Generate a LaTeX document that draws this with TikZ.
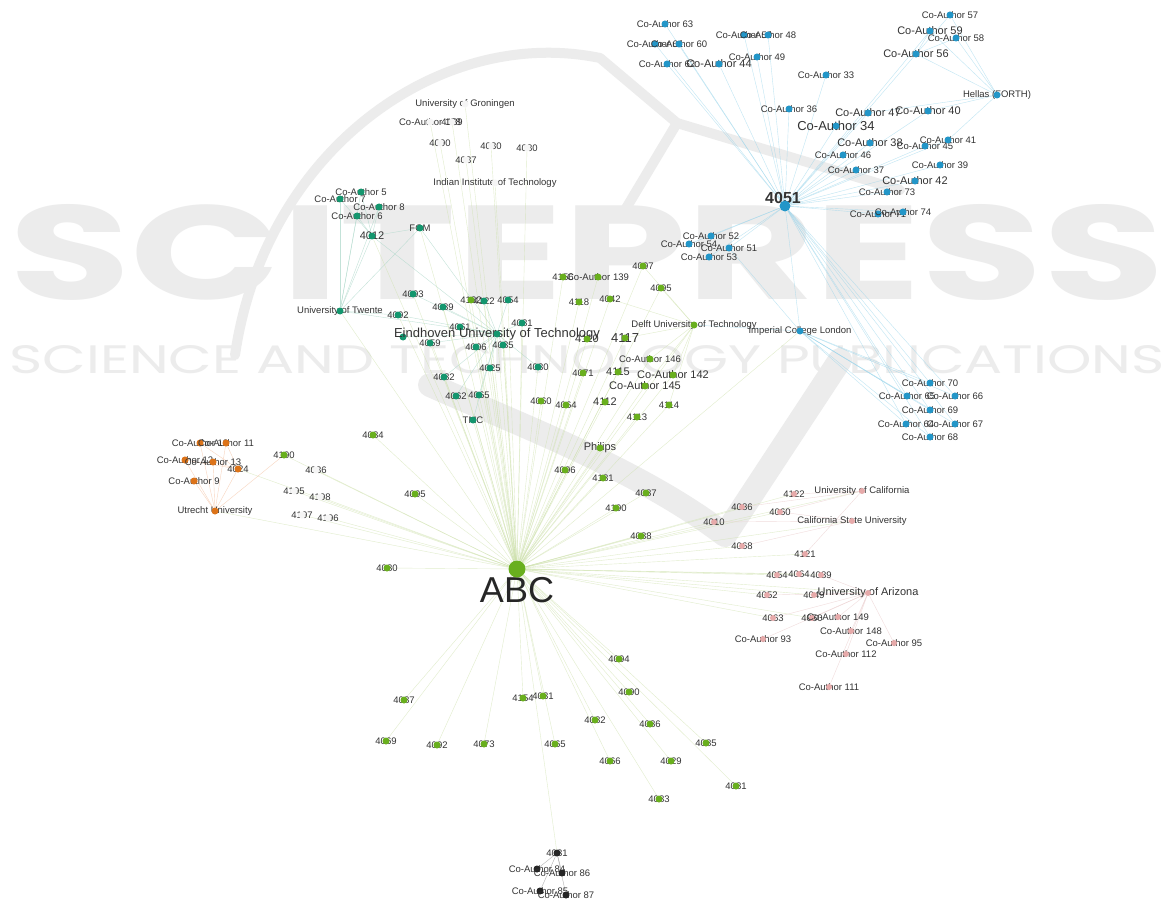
\documentclass[tikz,border=0pt]{standalone}
\usepackage{fontspec}
\setmainfont{Liberation Sans}
\newfontfamily\wmfont{Poppins}
\usepackage{graphicx}
\usetikzlibrary{backgrounds}
\definecolor{nodeblue}{RGB}{35,150,200}
\definecolor{nodeteal}{RGB}{20,150,110}
\definecolor{nodegreen}{RGB}{105,175,30}
\definecolor{nodeorange}{RGB}{220,115,25}
\definecolor{nodepink}{RGB}{230,170,170}
\definecolor{edgegreen}{RGB}{205,225,170}
\definecolor{edgeblue}{RGB}{150,212,235}
\definecolor{edgeteal}{RGB}{170,215,200}
\definecolor{edgeorange}{RGB}{245,195,165}
\definecolor{edgepink}{RGB}{235,205,205}
\definecolor{wmgray}{RGB}{236,236,236}

\begin{document}
\begin{tikzpicture}[x=1pt, y=-1pt,
  lab/.style={font=\fontsize{9.5}{10}\selectfont, text=black!80, inner sep=0pt},
  labm/.style={lab, font=\fontsize{11}{12}\selectfont},
  labl/.style={lab, font=\fontsize{13}{14}\selectfont},
  dot/.style={circle, inner sep=0pt, minimum size=7pt},
  bdot/.style={dot, fill=nodeblue},
  tdot/.style={dot, fill=nodeteal},
  gdot/.style={dot, fill=nodegreen},
  odot/.style={dot, fill=nodeorange},
  pdot/.style={dot, fill=nodepink},
  wdot/.style={dot, fill=black!4},
  ddot/.style={dot, fill=black!85},
  link/.style={line width=0.4pt},
  gedge/.style={link, draw=edgegreen, opacity=0.6},
  bedge/.style={link, draw=edgeblue, opacity=0.6},
  tedge/.style={link, draw=edgeteal, opacity=0.7},
  oedge/.style={link, draw=edgeorange, opacity=0.7},
  pedge/.style={link, draw=edgepink, opacity=0.7},
  wmline/.style={draw=wmgray, line cap=round, line join=round}
]
\useasboundingbox (0,0) rectangle (1169,901);

% blue cluster round 4051
\foreach \n/\x/\y/\f/\txt in {
  b63/665/24/lab/{Co-Author 63}, b61/655/44/lab/{Co-Author 61},
  b60/679/44/lab/{Co-Author 60}, b50/744/35/lab/{Co-Author 50},
  b48/768/35/lab/{Co-Author 48}, b49/757/57/lab/{Co-Author 49},
  b62/667/64/lab/{Co-Author 62}, b44/719/64/labm/{Co-Author 44},
  b33/826/75/lab/{Co-Author 33}, b36/789/109/lab/{Co-Author 36},
  b47/868/113/labm/{Co-Author 47}, b40/928/111/labm/{Co-Author 40},
  b34/836/126/labl/{Co-Author 34}, b38/870/143/labm/{Co-Author 38},
  b45/925/146/lab/{Co-Author 45}, b41/948/140/lab/{Co-Author 41},
  b46/843/155/lab/{Co-Author 46}, b37/856/170/lab/{Co-Author 37},
  b39/940/165/lab/{Co-Author 39}, b42/915/181/labm/{Co-Author 42},
  b73/887/192/lab/{Co-Author 73}, b71/878/214/lab/{Co-Author 71},
  b74/903/212/lab/{Co-Author 74}, b57/950/15/lab/{Co-Author 57},
  b59/930/31/labm/{Co-Author 59}, b58/956/38/lab/{Co-Author 58},
  b56/916/54/labm/{Co-Author 56}, hel/997/95/lab/{Hellas (FORTH)},
  b52/711/236/lab/{Co-Author 52}, b54/689/244/lab/{Co-Author 54},
  b51/729/248/lab/{Co-Author 51}, b53/709/257/lab/{Co-Author 53},
  icl/800/331/lab/{Imperial College London},
  b70/930/383/lab/{Co-Author 70}, b65/907/396/lab/{Co-Author 65},
  b66/955/396/lab/{Co-Author 66}, b69/930/410/lab/{Co-Author 69},
  b64/906/424/lab/{Co-Author 64}, b67/955/424/lab/{Co-Author 67},
  b68/930/437/lab/{Co-Author 68}}{
  \node[\f] at (\x,\y) {\txt};
  \node[bdot] (\n) at (\x,\y) {};
}
\node[lab, font=\bfseries\fontsize{16}{17}\selectfont] at (783,198) {4051};
\node[bdot, minimum size=11pt] (hub) at (785,206) {};

% top labels with pale dots
\foreach \n/\x/\y/\f/\txt in {
  grn/465/104/lab/{University of Groningen}, c138/430/122/lab/{Co-Author 138},
  t4139/452/122/lab/{4139}, t4090/440/143/lab/{4090},
  t4030/491/146/lab/{4030}, t4080/527/148/lab/{4080},
  t4037/466/160/lab/{4037}, iit/495/183/lab/{Indian Institute of Technology},
  w4036/316/470/lab/{4036}, w4195/294/491/lab/{4195},
  w4198/320/497/lab/{4198}, w4197/302/515/lab/{4197},
  w4196/328/518/lab/{4196}}{
  \node[\f] at (\x,\y) {\txt};
  \node[wdot] (\n) at (\x,\y) {};
}

% teal cluster
\foreach \n/\x/\y/\f/\txt in {
  c5/361/192/lab/{Co-Author 5}, c7/340/199/lab/{Co-Author 7},
  c8/379/207/lab/{Co-Author 8}, c6/357/216/lab/{Co-Author 6},
  t4012/372/236/labm/{4012}, fom/420/228/lab/{FOM},
  t4093/413/294/lab/{4093}, twe/340/311/lab/{University of Twente},
  t4092/398/315/lab/{4092}, t4089/443/307/lab/{4089},
  t4122/484/301/lab/{4122}, t4054/508/300/lab/{4054},
  t4061/460/327/lab/{4061}, t4081/522/323/lab/{4081},
  t4059/430/343/lab/{4059}, t4006/476/347/lab/{4006},
  t4085/503/345/lab/{4085}, t4025/490/368/lab/{4025},
  t4030b/538/367/lab/{4030}, t4082/444/377/lab/{4082},
  t4062/456/396/lab/{4062}, t4065/479/395/lab/{4065},
  tmc/473/420/lab/{TMC}, x403/403/337/lab/{},
  ein/497/334/labl/{Eindhoven University of Technology}}{
  \node[\f] at (\x,\y) {\txt};
  \node[tdot] (\n) at (\x,\y) {};
}

% green cluster
\foreach \n/\x/\y/\f/\txt in {
  g4132/471/300/lab/{4132}, g4156/563/277/lab/{4156},
  g139/598/277/lab/{Co-Author 139}, g4097/643/266/lab/{4097},
  g4095/661/288/lab/{4095}, g4118/579/302/lab/{4118},
  g4042/610/299/lab/{4042}, dlf/694/325/lab/{Delft University of Technology},
  g4117/625/338/labl/{4117}, g4110/587/339/labm/{4110},
  g146/650/359/lab/{Co-Author 146}, g4071/583/373/lab/{4071},
  g4115/618/372/labm/{4115}, g142/673/375/labm/{Co-Author 142},
  g145/645/386/labm/{Co-Author 145}, g4060/541/401/lab/{4060},
  g4064/566/405/lab/{4064}, g4112/605/402/labm/{4112},
  g4114/669/405/lab/{4114}, g4113/637/417/lab/{4113},
  phl/600/448/labm/{Philips}, g4096/565/470/lab/{4096},
  g4181/603/478/lab/{4181}, g4087/646/493/lab/{4087},
  g4190/616/508/lab/{4190}, g4088/641/536/lab/{4088},
  g4084/373/435/lab/{4084}, g4095b/415/494/lab/{4095},
  g4190b/284/455/lab/{4190}, g4080/387/568/lab/{4080},
  g4094/619/659/lab/{4094}, g4087b/404/700/lab/{4087},
  g4154/523/698/lab/{4154}, g4031/543/696/lab/{4031},
  g4090/629/692/lab/{4090}, g4082/595/720/lab/{4082},
  g4086/650/724/lab/{4086}, g4069/386/741/lab/{4069},
  g4092/437/745/lab/{4092}, g4073/484/744/lab/{4073},
  g4065/555/744/lab/{4065}, g4085/706/743/lab/{4085},
  g4066/610/761/lab/{4066}, g4029/671/761/lab/{4029},
  g4081/736/786/lab/{4081}, g4083/659/799/lab/{4083}}{
  \node[\f] at (\x,\y) {\txt};
  \node[gdot] (\n) at (\x,\y) {};
}

% orange cluster
\foreach \n/\x/\y/\f/\txt in {
  o10/200/443/lab/{Co-Author 10}, o11/226/443/lab/{Co-Author 11},
  o12/185/460/lab/{Co-Author 12}, o13/213/462/lab/{Co-Author 13},
  o4024/238/469/lab/{4024}, o9/194/481/lab/{Co-Author 9},
  utr/215/511/lab/{Utrecht University}}{
  \node[\f] at (\x,\y) {\txt};
  \node[odot] (\n) at (\x,\y) {};
}

% pink cluster
\foreach \n/\x/\y/\f/\txt in {
  p4122/794/494/lab/{4122}, uca/862/491/lab/{University of California},
  p4086/742/507/lab/{4086}, p4060/780/512/lab/{4060},
  csu/852/521/lab/{California State University}, p4010/714/522/lab/{4010},
  p4068/742/546/lab/{4068}, p4121/805/554/lab/{4121},
  p4054/777/575/lab/{4054}, p4064/799/574/lab/{4064},
  p4089/821/575/lab/{4089}, p4052/767/595/lab/{4052},
  p4049/814/595/lab/{4049}, uaz/868/593/labm/{University of Arizona},
  p4063/773/618/lab/{4063}, p4050/812/618/lab/{4050},
  p149/838/617/lab/{Co-Author 149}, p148/851/631/lab/{Co-Author 148},
  p95/894/643/lab/{Co-Author 95}, p93/763/639/lab/{Co-Author 93},
  p112/846/654/lab/{Co-Author 112}, p111/829/687/lab/{Co-Author 111}}{
  \node[\f] at (\x,\y) {\txt};
  \node[pdot, minimum size=6pt] (\n) at (\x,\y) {};
}

% bottom cluster
\foreach \n/\x/\y/\f/\txt in {
  d4031/557/853/lab/{4031}, d84/537/869/lab/{Co-Author 84},
  d86/562/873/lab/{Co-Author 86}, d85/540/891/lab/{Co-Author 85},
  d87/566/895/lab/{Co-Author 87}}{
  \node[\f] at (\x,\y) {\txt};
  \node[ddot] (\n) at (\x,\y) {};
}

% ABC
\node[lab, font=\fontsize{36}{40}\selectfont, text=black!85] at (517,590) {ABC};
\node[gdot, minimum size=17pt] (abc) at (517,569) {};

\begin{scope}[on background layer]
  \fill[white] (0,0) rectangle (1169,901);
  % watermark
  \node[text=wmgray, inner sep=0pt] at (587,252)
    {\resizebox{1155pt}{95pt}{\wmfont\bfseries SCITEPRESS}};
  \node[text=wmgray, inner sep=0pt] at (587,360)
    {\resizebox{1155pt}{28pt}{\wmfont SCIENCE AND TECHNOLOGY PUBLICATIONS}};
  \draw[wmline, line width=10pt] (235,355) .. controls (265,150) and (440,25) .. (600,58)
    -- (677,123) -- (900,190);
  \draw[wmline, line width=10pt] (677,123) -- (625,210);
  \draw[wmline, line width=24pt] (430,385) .. controls (520,425) and (640,470) .. (725,535)
    -- (840,360);

  \foreach \m in {b63,b61,b60,b50,b48,b49,b62,b44,b33,b36,b47,b40,b34,b38,b45,
                  b41,b46,b37,b39,b42,b73,b71,b74,b56,b59,b52,b54,b51,b53,icl,
                  b70,b65,b66,b69,b64,b67,b68}
    \draw[bedge] (hub) -- (\m);
  \foreach \m in {b56,b57,b58,b59,b40,b41,b47}
    \draw[bedge] (hel) -- (\m);
  \foreach \m in {b57,b58,b59}
    \draw[bedge] (b56) -- (\m);
  \foreach \m in {b70,b65,b66,b69,b64,b67,b68,b51,dlf}
    \draw[bedge] (icl) -- (\m);

  \foreach \m in {t4093,twe,t4092,t4089,t4122,t4054,t4061,t4081,t4059,t4006,
                  t4085,t4025,t4030b,t4082,t4062,t4065,tmc,fom,t4012,x403}
    \draw[tedge] (ein) -- (\m);
  \foreach \m in {c5,c6,c7,c8,t4012,fom,t4092}
    \draw[tedge] (twe) -- (\m);
  \foreach \m in {c5,c6,c7,c8,fom}
    \draw[tedge] (t4012) -- (\m);

  \foreach \m in {t4093,twe,t4092,t4089,t4122,t4054,t4061,t4081,t4059,t4006,
                  t4085,t4025,t4030b,t4082,t4062,t4065,tmc,fom,t4012,ein,
                  grn,c138,t4139,t4090,t4030,t4080,t4037,iit,
                  g4132,g4156,g139,g4097,g4095,g4118,g4042,dlf,g4117,g4110,
                  g146,g4071,g4115,g142,g145,g4060,g4064,g4112,g4114,g4113,
                  phl,g4096,g4181,g4087,g4190,g4088,g4084,g4095b,g4190b,g4080,
                  g4094,g4087b,g4154,g4031,g4090,g4082,g4086,g4069,g4092,g4073,
                  g4065,g4085,g4066,g4029,g4081,g4083,
                  p4122,uca,p4086,p4060,csu,p4010,p4068,p4121,p4054,p4064,
                  p4089,p4052,p4049,uaz,p4063,p4050,
                  utr,o4024,w4036,w4195,w4198,w4197,w4196,d4031,icl}
    \draw[gedge] (abc) -- (\m);
  \foreach \m in {g4117,g4042,g4095,g4097,g146,g142,g145,g4114}
    \draw[gedge] (dlf) -- (\m);

  \foreach \m in {o9,o10,o11,o12,o13,o4024,g4190b}
    \draw[oedge] (utr) -- (\m);
  \foreach \m in {o10,o11,o12,o13}
    \draw[oedge] (o4024) -- (\m);

  \foreach \m in {p149,p148,p95,p93,p112,p111,p4049,p4050,p4063,p4052,p4089}
    \draw[pedge] (uaz) -- (\m);
  \foreach \m in {p4122,p4060,p4086,p4121}
    \draw[pedge] (uca) -- (\m);
  \foreach \m in {p4010,p4068,p4060}
    \draw[pedge] (csu) -- (\m);

  \foreach \m in {d84,d85,d86,d87}
    \draw[link, draw=black!30] (d4031) -- (\m);
\end{scope}
\end{tikzpicture}
\end{document}
